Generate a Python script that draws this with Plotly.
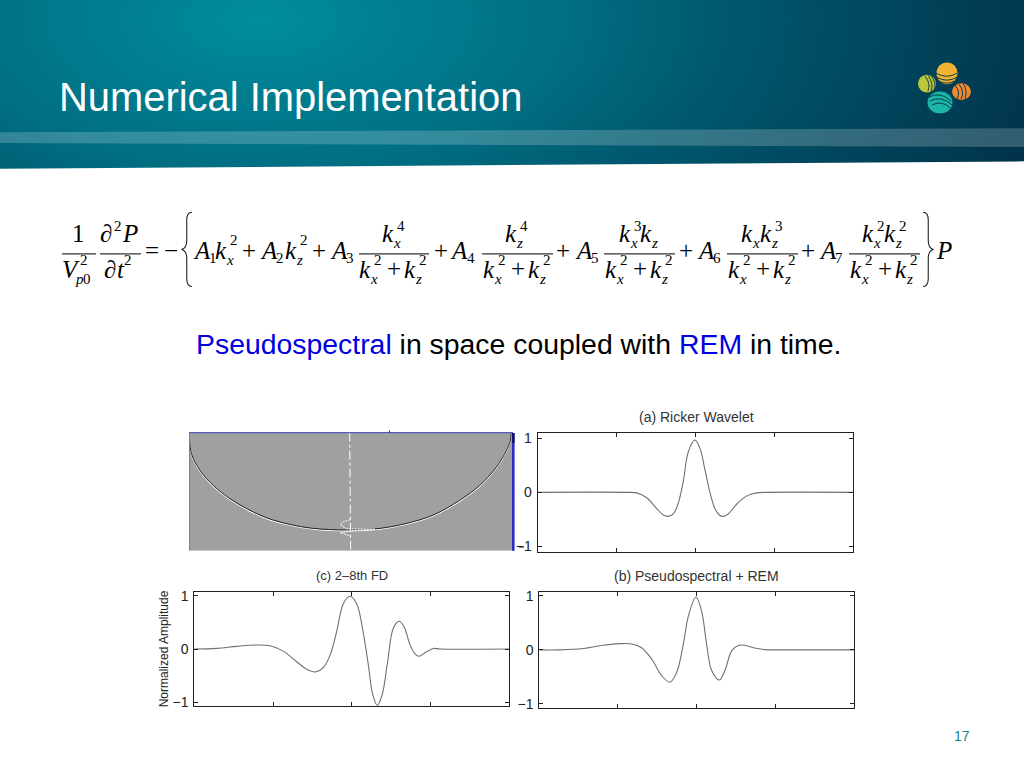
import base64
import plotly.graph_objects as go

W, H = 1024, 768

# ---------- data ----------
ricker_x = [0, 1.131, 1.258, 1.384, 1.511, 1.595, 1.658, 1.722, 1.785, 1.848, 1.912, 1.996, 2.059, 2.123, 2.186, 2.249, 2.313, 2.355, 2.418, 2.524, 2.65, 2.777, 2.903, 4]
ricker_y = [0, 0, -0.01, -0.1, -0.3, -0.42, -0.445, -0.40, -0.2, 0.2, 0.75, 0.97, 0.82, 0.42, 0.0, -0.3, -0.43, -0.445, -0.4, -0.22, -0.07, -0.01, 0, 0]

fd_x = [0, .284, .538, .792, .961, 1.13, 1.30, 1.427, 1.541, 1.638, 1.723, 1.808, 1.892, 1.977, 2.062, 2.146, 2.21, 2.265, 2.324, 2.387, 2.451, 2.527, 2.60, 2.663, 2.739, 2.802, 2.857, 2.929, 3.035, 3.12, 4]
fd_y = [0, .012, .05, .075, .06, -.04, -.24, -.38, -.43, -.35, -.12, .33, .85, .99, .85, .3, -.3, -.85, -1.06, -.85, -.28, .39, .52, .42, .08, -.09, -.135, -.07, .01, 0, 0]

ps_x = [0, .263, .559, .814, 1.025, 1.174, 1.30, 1.428, 1.555, 1.661, 1.746, 1.83, 1.894, 1.991, 2.063, 2.127, 2.19, 2.288, 2.36, 2.445, 2.53, 2.614, 2.72, 2.868, 3.017, 4]
ps_y = [0, 0, .025, .085, .115, .11, .04, -.17, -.48, -.6, -.42, .1, .62, .98, .72, .1, -.38, -.56, -.38, -.02, .08, .085, .04, .005, 0, 0]

front_x = [0, 0.4, 2.3, 10.7, 24, 40.7, 57.3, 77.3, 100.7, 124, 157.3, 190.7, 217.3, 244, 270.7, 290.7, 307.3, 317.3, 321.3, 322]
front_y = [0, 8.3, 21.7, 38.3, 53.3, 66.7, 76.7, 86, 92.7, 96.7, 98.3, 96.7, 91.7, 83.3, 68.3, 53.3, 35, 18.3, 8.3, 0]
trace_line_x = [160.5, 161.5]
trace_line_y = [0, 118]
wiggle_x = [161, 154, 151, 157, 171, 186, 164, 151, 157, 162]
wiggle_y = [88, 90, 93, 97, 97.5, 97.5, 99, 101, 103, 105]

tick_vals = [-1, 0, 1]
tick_text = ["\u22121", "0", "1"]
x_ticks = [1, 2, 3]
panel_titles = ["(a) Ricker Wavelet", "(c) 2\u20138th FD", "(b) Pseudospectral + REM"]
y_title = "Normalized Amplitude"
heading = "Numerical Implementation"
page_no = "17"

# ---------- helpers ----------
def px(x): return x / W
def py(y): return 1 - y / H
def pz(y): return 1 - (y + 1.5) / H   # axes and shapes

annotations, shapes = [], []
SERIF = "Liberation Serif"
M, S = 25, 15   # main and script sizes of the equation

def txt(s, x, base, size=M, it=False, anchor="left", color="black", font=SERIF):
    x = x - 2.3 if anchor == "left" else x
    annotations.append(dict(
        text=f"<i>{s}</i>" if it else s, x=px(x), y=py(base - 0.31 * size - 1.5), xref="paper", yref="paper",
        xanchor=anchor, yanchor="middle", showarrow=False, borderpad=0,
        font=dict(family=font, size=size, color=color)))

def hline(x0, x1, y, color="#333", w=1.2):
    shapes.append(dict(type="line", xref="paper", yref="paper", x0=px(x0), x1=px(x1), y0=pz(y), y1=pz(y),
                       line=dict(color=color, width=w)))

def vline(x, y0, y1, color, w=1):
    shapes.append(dict(type="line", xref="paper", yref="paper", x0=px(x), x1=px(x), y0=pz(y0), y1=pz(y1),
                       line=dict(color=color, width=w)))

def kterm(x, base, sub, sup=None, up=13.5):
    txt("k", x, base, M, True)
    if sup:
        txt(sup, x + 15, base - up, S)
    txt(sub, x + 11, base + 6.5, S, True)

def denom(x, base=278):
    kterm(x, base, "x", "2")
    txt("+", x + 28, base - 1, M)
    kterm(x + 45, base, "z", "2")

def brace(x0, x1, y0, y1, left=True):
    m = (y0 + y1) / 2
    a, b = (x1, x0) if left else (x0, x1)
    c = (a + b) / 2
    def P(x, y): return f"{px(x)} {pz(y)}"
    path = (f"M {P(a, y0)} Q {P(c, y0)} {P(c, y0 + 8)} L {P(c, m - 9)} Q {P(c, m - 1)} {P(b, m)} "
            f"Q {P(c, m + 1)} {P(c, m + 9)} L {P(c, y1 - 8)} Q {P(c, y1)} {P(a, y1)}")
    shapes.append(dict(type="path", xref="paper", yref="paper", path=path, line=dict(color="#222", width=1.1)))

# ---------- equation ----------
BL = 258
NB = 241.5
RULE = 251
txt("1", 78, NB, M, anchor="center")
hline(62, 96, RULE)
txt("V", 63, 278, M, True); txt("2", 81, 265, S); txt("p", 76, 284, S, True); txt("0", 84, 284, S)
txt("\u2202", 101.7, NB, M); txt("2", 115, 230, S); txt("P", 123, NB, M, True)
hline(100, 141, RULE)
txt("\u2202", 105, 278, M); txt("t", 118, 278, M, True); txt("2", 125, 265, S)
txt("=", 146, BL, M); txt("\u2212", 165, BL, M)
brace(181.5, 192, 209, 284, True)
txt("A", 194, BL, M, True); txt("1", 210, BL + 5, S)
kterm(216, BL, "x", "2")
txt("+", 243, BL, M)
txt("A", 261.7, BL, M, True); txt("2", 277, BL + 5, S)
kterm(286.5, BL, "z", "2")
txt("+", 313, BL, M)
txt("A", 331.7, BL, M, True); txt("3", 347.7, BL + 5, S)
hline(359, 429, RULE)
kterm(383, NB, "x", "4", 11)
denom(360)
txt("+", 435, BL, M)
txt("A", 451.7, BL, M, True); txt("4", 468, BL + 5, S)
hline(482, 553, RULE)
kterm(506.7, NB, "z", "4", 11)
denom(484)
txt("+", 557, BL, M)
txt("A", 576, BL, M, True); txt("5", 592, BL + 5, S)
hline(604, 675, RULE)
kterm(620, NB, "x", "3", 11); kterm(641.7, NB, "z")
denom(606)
txt("+", 680, BL, M)
txt("A", 698, BL, M, True); txt("6", 714, BL + 5, S)
hline(727, 798, RULE)
kterm(742.3, NB, "x"); kterm(761.7, NB, "z", "3", 11)
denom(729)
txt("+", 802, BL, M)
txt("A", 820.7, BL, M, True); txt("7", 836.7, BL + 5, S)
hline(849, 920, RULE)
kterm(863, NB, "x", "2", 11); kterm(885, NB, "z", "2", 11)
denom(851.7)
brace(923, 933.5, 209, 284, False)
txt("P", 937.5, BL, M, True)

# ---------- slide text ----------
SANS = "Liberation Sans"
txt(heading, 60, 107.5, 39.9, color="white", font=SANS)
annotations.append(dict(
    text='<span style="color:#0000e0">Pseudospectral</span> in space coupled with <span style="color:#0000e0">REM</span> in time.',
    x=px(194), y=py(343.5), xref="paper", yref="paper", xanchor="left", yanchor="middle", showarrow=False,
    font=dict(family=SANS, size=28.4, color="black")))
txt(page_no, 962, 746, 14, anchor="center", color="#1a7f95", font=SANS)
for s, x, y, z in zip(panel_titles, [696.5, 351.5, 696], [423.5, 583.5, 583.5], [14, 13, 14]):
    txt(s, x, y, z, anchor="center", color="#333", font=SANS)

# ---------- header background ----------
logo = """
<g transform="translate(0 1)">
<ellipse cx="947" cy="73" rx="10.5" ry="11" fill="#f2b233"/>
<ellipse cx="927" cy="83.5" rx="9" ry="9" fill="#bcc63c"/>
<ellipse cx="961.5" cy="91.5" rx="9.5" ry="8.5" fill="#ef8a2e"/>
<ellipse cx="940" cy="102.5" rx="12.5" ry="11" fill="#1bb5a5"/>
<g fill="none" stroke="#0b3a4c" stroke-width="1">
<path d="M936 73 Q947 79 957 73 M936.5 77 Q947 83 957 77 M939 81 Q947 85 954 81"/>
<path d="M928 75 Q934 83 931 92 M931 75 Q937 83 934 91 M925 76 Q931 83 928 91"/>
<path d="M955 85 Q961 92 957 99 M959 84 Q965 92 961 99 M963 83 Q968 91 965 99"/>
<path d="M929 97 Q940 91 951 101 M930 101 Q941 95 952 105 M932 105 Q942 100 950 108"/>
</g></g>"""
svg = f"""<svg xmlns="http://www.w3.org/2000/svg" width="{W}" height="{H}" viewBox="0 0 {W} {H}">
<defs>
<radialGradient id="g" gradientUnits="userSpaceOnUse" cx="0" cy="0" r="1" gradientTransform="translate(260 20) scale(850 420)">
<stop offset="0" stop-color="#008d9d"/><stop offset="0.35" stop-color="#016f83"/>
<stop offset="0.55" stop-color="#00586e"/><stop offset="1" stop-color="#012f47"/></radialGradient>
</defs>
<rect width="{W}" height="{H}" fill="white"/>
<polygon points="0,0 1024,0 1024,163 0,170.5" fill="url(#g)"/>
<polygon points="0,133.5 1024,129.5 1024,148.5 0,144.5" fill="#ffffff" fill-opacity="0.2"/>
{logo}
</svg>"""
src = "data:image/svg+xml;base64," + base64.b64encode(svg.encode()).decode()

# ---------- figure ----------
fig = go.Figure()
LINE = dict(color="#707070", width=1.1, shape="spline", smoothing=1)
fig.add_trace(go.Scatter(x=ricker_x, y=ricker_y, mode="lines", line=LINE, xaxis="x", yaxis="y", name="Ricker"))
fig.add_trace(go.Scatter(x=fd_x, y=fd_y, mode="lines", line=LINE, xaxis="x2", yaxis="y2", name="2-8th FD"))
fig.add_trace(go.Scatter(x=ps_x, y=ps_y, mode="lines", line=LINE, xaxis="x3", yaxis="y3", name="PS+REM"))
fig.add_trace(go.Scatter(x=front_x, y=[v + 0.9 for v in front_y], mode="lines",
                         line=dict(color="white", width=1.1, shape="spline"), xaxis="x4", yaxis="y4", name="front+"))
fig.add_trace(go.Scatter(x=front_x, y=front_y, mode="lines",
                         line=dict(color="#111", width=0.9, shape="spline"), xaxis="x4", yaxis="y4", name="front"))
fig.add_trace(go.Scatter(x=trace_line_x, y=trace_line_y, mode="lines",
                         line=dict(color="white", width=1, dash="dashdot"), xaxis="x4", yaxis="y4", name="trace"))
fig.add_trace(go.Scatter(x=wiggle_x, y=wiggle_y, mode="lines",
                         line=dict(color="white", width=1, dash="2px,1px"), xaxis="x4", yaxis="y4", name="wiggle"))

def xa(l, r, anchor):
    return dict(domain=[px(l), px(r)], range=[0, 4], anchor=anchor, tickvals=x_ticks, ticktext=["", "", ""],
                ticks="inside", ticklen=4, tickcolor="#222", showgrid=False, zeroline=False, showline=True,
                linecolor="#222", linewidth=1, mirror="allticks")

def ya(t, b, rng, anchor, **kw):
    return dict(domain=[pz(b), pz(t)], range=[-rng, rng], anchor=anchor, tickvals=tick_vals, ticktext=tick_text,
                ticks="inside", ticklen=4, tickcolor="#222", showgrid=False, zeroline=False, showline=True,
                linecolor="#222", linewidth=1, mirror="allticks", ticklabelstandoff=2,
                tickfont=dict(family=SANS, size=14, color="#222"), **kw)

shapes.insert(0, dict(type="rect", xref="x4", yref="y4", x0=0, x1=324, y0=0, y1=119.3, layer="below",
                      fillcolor="#a0a0a0", line=dict(width=0)))
hline(189, 513, 431.7, "#5a5ab8", 1.2)
vline(189.5, 432, 551, "#7878c0", 1)
vline(513.3, 432, 551, "#2c2cc4", 2.6)
vline(513.3, 432, 442, "#14146e", 2.6)
vline(389.5, 429.5, 432, "#333", 1)
hline(519, 524, 547.5, "#555", 1)

fig.update_layout(
    width=W, height=H, margin=dict(l=0, r=0, t=0, b=0), autosize=False, showlegend=False,
    paper_bgcolor="white", plot_bgcolor="rgba(0,0,0,0)",
    images=[dict(source=src, xref="paper", yref="paper", x=0, y=1 + 4 / H, sizex=1, sizey=1,
                 sizing="stretch", xanchor="left", yanchor="top", layer="below")],
    xaxis=xa(537.5, 853, "y"), yaxis=ya(432, 552, 1.10, "x"),
    xaxis2=xa(194.3, 509.3, "y2"),
    yaxis2=ya(592.3, 708.3, 1.078, "x2", title=dict(text=y_title, standoff=1, font=dict(family=SANS, size=12, color="#222"))),
    xaxis3=xa(539.3, 854, "y3"), yaxis3=ya(592.3, 710, 1.08, "x3"),
    xaxis4=dict(domain=[px(189.3), px(513)], range=[0, 324], anchor="y4", visible=False),
    yaxis4=dict(domain=[pz(551), pz(431.7)], range=[119.3, 0], anchor="x4", visible=False),
    annotations=annotations, shapes=shapes,
)
fig.write_html("out.html", config={"displayModeBar": False},
               post_script="document.body.style.margin='0';document.body.style.overflow='hidden';")
